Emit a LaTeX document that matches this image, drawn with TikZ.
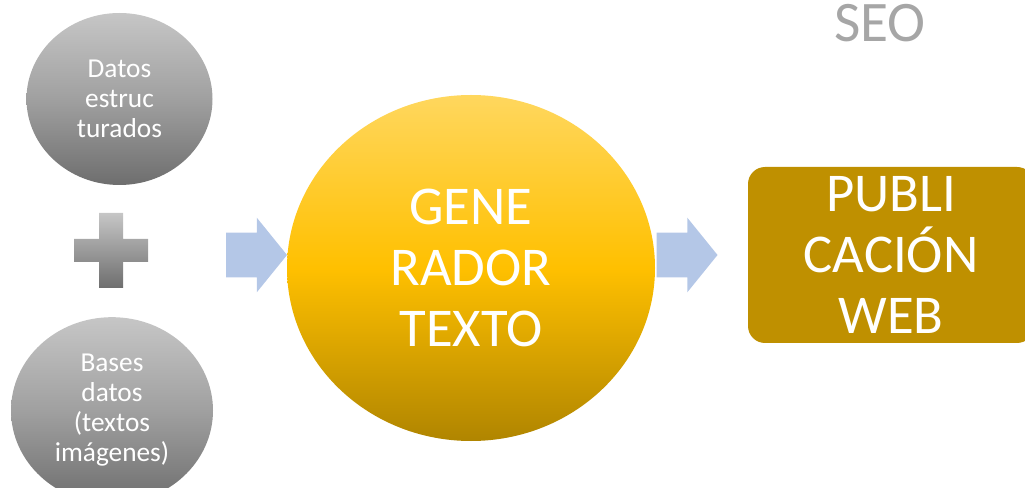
\documentclass[tikz,border=0pt]{standalone}
\usepackage{fontspec}
\setmainfont{Carlito}
\usepackage{xcolor}
\usetikzlibrary{shapes.geometric,shapes.arrows}

\definecolor{grisclaro}{HTML}{C6C6C6}
\definecolor{grismedio}{HTML}{A0A0A0}
\definecolor{grisoscuro}{HTML}{6E6E6E}
\definecolor{oroclaro}{HTML}{FFD75E}
\definecolor{oro}{HTML}{FFC000}
\definecolor{orooscuro}{HTML}{B08500}
\definecolor{dorado}{HTML}{BF9000}
\definecolor{azulflecha}{HTML}{B4C7E7}
\definecolor{grisseo}{HTML}{A6A6A6}

\begin{document}
\begin{tikzpicture}[x=0.75pt,y=-0.75pt,
	fuente/.style={text=white,align=center,font=\fontsize{20.5}{22.5}\selectfont},
	fuentegrande/.style={text=white,align=center,font=\fontsize{41}{45.5}\selectfont},
	entrada/.style={ellipse,inner sep=0pt,fuente,top color=grisclaro,bottom color=grisoscuro,middle color=grismedio},
	flecha/.style={single arrow,fill=azulflecha,inner xsep=0pt,inner ysep=16.5pt,single arrow head extend=11.25pt,single arrow tip angle=102,minimum height=45.75pt}]
	\clip (0,0) rectangle (1025,488);

	\node[entrada,name=estructurados,minimum width=139.5pt,minimum height=129pt] at (119.5,99) {Datos\\estruc\\turados};
	\node[entrada,name=bases,minimum width=151.5pt,minimum height=140pt] at (112,410.5) {Bases\\datos\\(textos\\imágenes)};

	% signo mas
	\shade[top color=grisclaro,bottom color=grisoscuro] (99,213) -- (123,213) -- (123,239) -- (148,239) -- (148,262) -- (123,262)
		-- (123,288) -- (99,288) -- (99,262) -- (74,262) -- (74,239) -- (99,239) -- cycle;

	\node[ellipse,inner sep=0pt,fuentegrande,top color=oroclaro,bottom color=orooscuro,middle color=oro,
		minimum width=276pt,minimum height=259.5pt,name=generador] at (471,268) {GENE\\RADOR\\TEXTO};
	\node[rectangle,rounded corners=12.75pt,fill=dorado,fuentegrande,minimum width=214.5pt,minimum height=132pt,
		name=publicacion] at (891,255) {PUBLI\\CACIÓN\\WEB};

	\node[flecha,name=flecha1] at (247.5,255) {};
	\node[flecha,name=flecha2] at (678,255) {};

	\node[text=grisseo,font=\fontsize{43}{48}\selectfont,anchor=base,name=seo] at (880,42) {SEO};
\end{tikzpicture}
\end{document}
